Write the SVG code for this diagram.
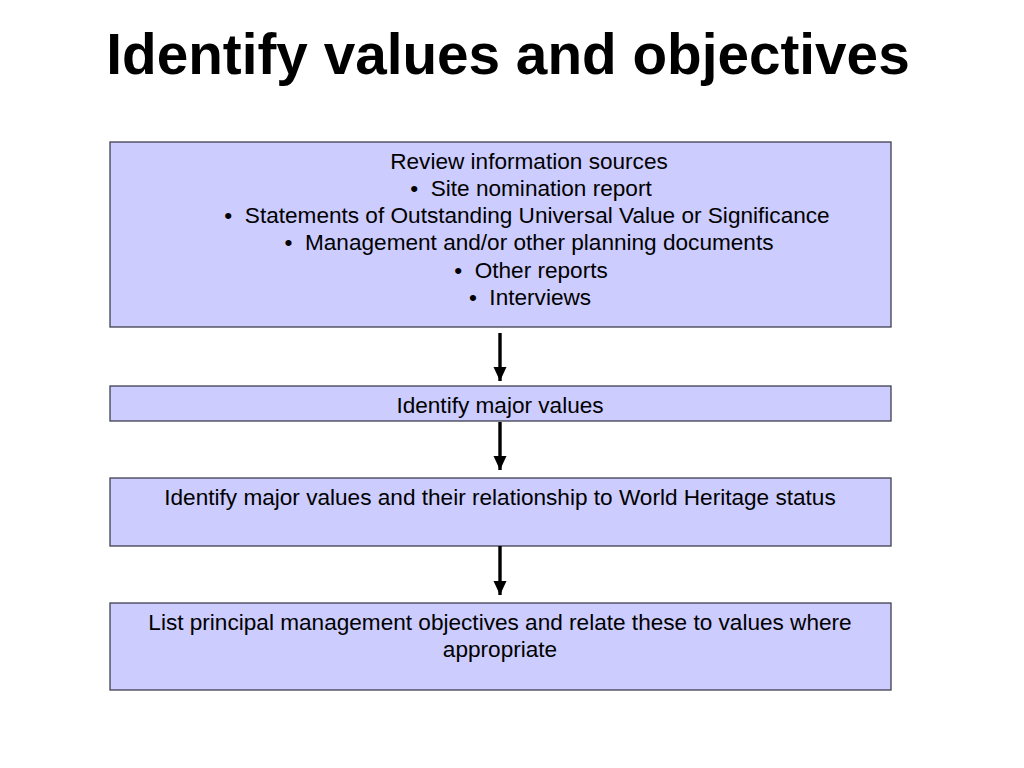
<svg xmlns="http://www.w3.org/2000/svg" width="1024" height="768" viewBox="0 0 1024 768">
<style>
.box{fill:#CCCCFF;stroke:#404050;stroke-width:1.3}
.t{font-family:"Liberation Sans",Arial,sans-serif;font-size:22.6px;fill:#000;text-anchor:middle}
.title{font-family:"Liberation Sans",Arial,sans-serif;font-size:56.7px;font-weight:bold;fill:#000;text-anchor:middle}
.c{stroke:#000;stroke-width:3.4;fill:none;marker-end:url(#ah)}
</style>
<defs>
<marker id="ah" markerUnits="userSpaceOnUse" viewBox="0 0 14 14" refX="14" refY="7" markerWidth="14" markerHeight="14" orient="auto">
<path d="M0,0.5 L14,7 L0,13.5 Z" fill="#000"/>
</marker>
</defs>
<rect width="1024" height="768" fill="#fff"/>
<text class="title" x="508" y="74">Identify values and objectives</text>
<g id="n1">
<rect class="box" x="110" y="142" width="781" height="185"/>
<text class="t" x="529" y="169">Review information sources</text>
<text class="t" x="531" y="196">•&#160; Site nomination report</text>
<text class="t" x="527" y="223">•&#160; Statements of Outstanding Universal Value or Significance</text>
<text class="t" x="529" y="250">•&#160; Management and/or other planning documents</text>
<text class="t" x="531" y="278">•&#160; Other reports</text>
<text class="t" x="530" y="305">•&#160; Interviews</text>
</g>
<g id="n2">
<rect class="box" x="110" y="386" width="781" height="35"/>
<text class="t" x="500" y="413">Identify major values</text>
</g>
<g id="n3">
<rect class="box" x="110" y="478" width="781" height="68"/>
<text class="t" x="500" y="505">Identify major values and their relationship to World Heritage status</text>
</g>
<g id="n4">
<rect class="box" x="110" y="603" width="781" height="87"/>
<text class="t" x="500" y="630">List principal management objectives and relate these to values where</text>
<text class="t" x="500" y="657">appropriate</text>
</g>
<g id="connectors">
<line class="c" x1="500" y1="333" x2="500" y2="381"/>
<line class="c" x1="500" y1="422" x2="500" y2="470"/>
<line class="c" x1="500" y1="546" x2="500" y2="595"/>
</g>
</svg>
